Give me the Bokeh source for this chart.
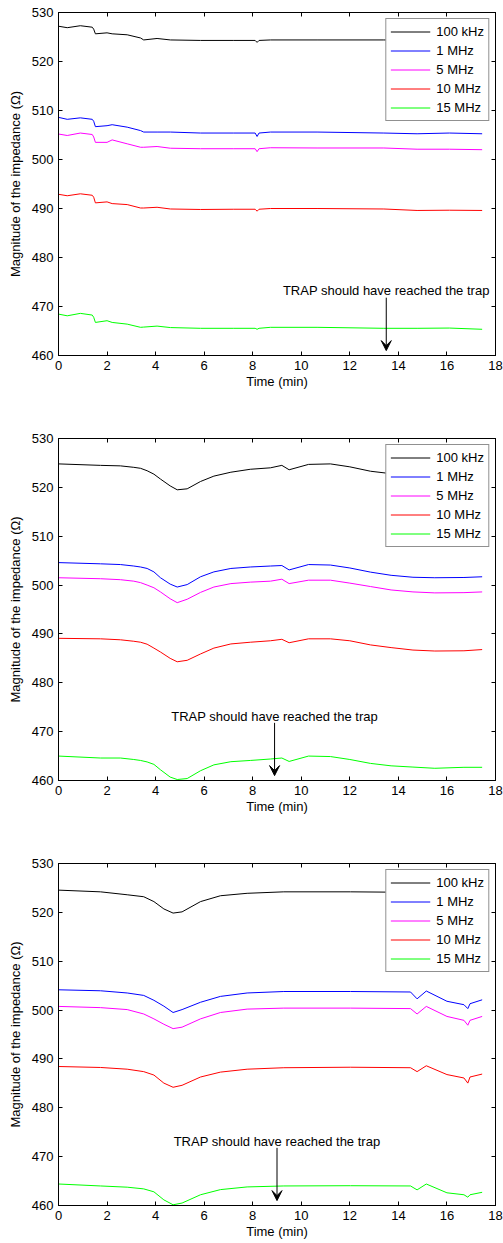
from bokeh.plotting import figure
from bokeh.models import (Range1d, LinearAxis, FixedTicker, Arrow, VeeHead, Label,
                          Legend, LegendItem)
from bokeh.layouts import column
from bokeh.embed import file_html
from bokeh.resources import INLINE

# ---------------- data ----------------
series_names = ["100 kHz", "1 MHz", "5 MHz", "10 MHz", "15 MHz"]
series_colors = ["#000000", "#0000ff", "#ff00ff", "#ff0000", "#00ff00"]

x_ticks = [0, 2, 4, 6, 8, 10, 12, 14, 16, 18]
y_ticks = [460, 470, 480, 490, 500, 510, 520, 530]

# Panel 1
t1 = [0.0, 0.36, 0.9, 1.39, 1.45, 1.52, 2.0, 2.21, 2.83, 3.38, 3.51, 4.06, 4.61, 5.85,
      7.22, 8.1, 8.18, 8.26, 8.73, 10.65, 13.4, 14.77, 16.1, 17.45]
p1_100k = [527.2, 526.9, 527.3, 527.0, 526.6, 525.65, 525.85, 525.65, 525.45, 524.8, 524.4, 524.7,
           524.4, 524.3, 524.3, 524.3, 523.9, 524.3, 524.4, 524.4, 524.4, 524.3, 524.3, 524.2]
p1_1M = [508.6, 508.2, 508.5, 508.2, 507.8, 506.7, 506.9, 507.1, 506.6, 505.9, 505.6, 505.6,
         505.6, 505.4, 505.4, 505.4, 504.7, 505.4, 505.6, 505.6, 505.4, 505.25, 505.4, 505.25]
p1_5M = [505.2, 504.9, 505.4, 505.1, 504.6, 503.5, 503.5, 504.0, 503.2, 502.5, 502.5, 502.65,
         502.3, 502.2, 502.2, 502.2, 501.6, 502.2, 502.4, 502.35, 502.35, 502.1, 502.1, 502.0]
p1_10M = [492.9, 492.6, 493.0, 492.7, 492.3, 491.15, 491.35, 491.0, 490.8, 490.1, 490.1, 490.25,
          489.9, 489.8, 489.85, 489.85, 489.45, 489.85, 490.0, 490.0, 489.9, 489.6, 489.65, 489.6]
p1_15M = [468.45, 468.1, 468.6, 468.25, 467.8, 466.75, 467.1, 466.75, 466.4, 465.75, 465.8, 466.0,
          465.7, 465.55, 465.55, 465.55, 465.35, 465.55, 465.75, 465.75, 465.55, 465.55, 465.6, 465.35]

# Panel 2
t2 = [0.0, 1.73, 2.55, 3.1, 3.38, 3.65, 3.93, 4.2, 4.6, 4.89, 5.3, 5.85, 6.4, 7.1, 7.9, 8.73,
      9.2, 9.5, 10.3, 11.2, 12.0, 12.85, 13.7, 14.6, 15.5, 16.7, 17.45]
p2_100k = [524.8, 524.5, 524.4, 524.1, 523.9, 523.4, 522.7, 521.7, 520.3, 519.5, 519.7, 521.2,
           522.3, 523.1, 523.7, 524.0, 524.5, 523.6, 524.7, 524.8, 524.2, 523.3, 522.8, 522.4,
           522.2, 522.3, 522.4]
p2_1M = [504.6, 504.35, 504.2, 503.9, 503.7, 503.4, 502.7, 501.5, 500.2, 499.6, 500.1, 501.7,
         502.7, 503.4, 503.7, 503.9, 504.0, 503.1, 504.2, 504.1, 503.5, 502.65, 502.0, 501.6,
         501.5, 501.55, 501.7]
p2_5M = [501.5, 501.3, 501.1, 500.8, 500.5, 500.0, 499.45, 498.6, 497.2, 496.4, 497.1, 498.5,
         499.6, 500.3, 500.6, 500.8, 501.2, 500.3, 501.0, 501.0, 500.4, 499.7, 499.0, 498.6,
         498.4, 498.45, 498.6]
p2_10M = [489.1, 489.0, 488.8, 488.5, 488.3, 487.9, 487.1, 486.3, 485.0, 484.3, 484.6, 485.9,
          487.1, 487.95, 488.3, 488.6, 488.9, 488.2, 489.0, 489.0, 488.6, 487.75, 487.2, 486.7,
          486.5, 486.55, 486.8]
p2_15M = [465.0, 464.6, 464.6, 464.3, 464.1, 463.8, 463.3, 462.2, 460.7, 460.2, 460.4, 462.0,
          463.2, 463.85, 464.1, 464.4, 464.6, 463.9, 465.0, 464.9, 464.3, 463.5, 463.0, 462.75,
          462.5, 462.7, 462.7]

# Panel 3
t3 = [0.0, 1.73, 2.83, 3.51, 3.93, 4.34, 4.72, 5.09, 5.85, 6.67, 7.77, 9.28, 12.03, 14.5,
      14.77, 15.15, 16.0, 16.7, 16.86, 16.95, 17.45]
p3_100k = [524.55, 524.2, 523.6, 523.2, 522.2, 520.7, 519.85, 520.1, 522.2, 523.4, 523.9, 524.2,
           524.2, 524.1, 523.1, 524.1, 523.2, 522.7, 522.0, 522.6, 522.9]
p3_1M = [504.15, 503.95, 503.5, 503.0, 502.0, 500.8, 499.5, 500.1, 501.6, 502.8, 503.5, 503.8,
         503.8, 503.7, 502.3, 503.9, 501.8, 501.1, 500.3, 501.3, 502.1]
p3_5M = [500.75, 500.5, 500.1, 499.2, 498.2, 497.1, 496.2, 496.5, 498.2, 499.5, 500.2, 500.4,
         500.4, 500.3, 499.2, 500.75, 498.7, 497.9, 496.9, 497.9, 498.7]
p3_10M = [488.45, 488.25, 487.9, 487.4, 486.7, 485.05, 484.2, 484.6, 486.3, 487.3, 487.9, 488.2,
          488.3, 488.2, 487.4, 488.6, 486.8, 486.1, 485.05, 486.3, 486.9]
p3_15M = [464.4, 464.0, 463.75, 463.4, 462.8, 461.15, 460.15, 460.5, 462.2, 463.25, 463.8, 464.0,
          464.05, 464.0, 463.2, 464.4, 462.6, 462.2, 461.7, 462.2, 462.7]

trap_times = [13.5, 8.9, 9.0]
trap_text = "TRAP should have reached the trap"

FONT = "Liberation Sans"


def style_axis(ax, ticks, show_labels=True):
    ax.ticker = FixedTicker(ticks=ticks)
    ax.major_tick_in = 4
    ax.major_tick_out = 0
    ax.minor_tick_in = 0
    ax.minor_tick_out = 0
    ax.axis_line_color = "#000000"
    ax.major_tick_line_color = "#000000"
    ax.major_label_text_font = FONT
    if show_labels:
        ax.major_label_text_color = "#000000"
        ax.major_label_text_font_size = "13px"
        ax.major_label_standoff = 5
    else:
        # tick marks only (box-style frame), no labels drawn
        ax.major_label_text_color = None
        ax.major_label_text_font_size = "1px"
        ax.major_label_standoff = 0


def make_panel(t, ys, trap_x, height, top, bottom):
    p = figure(width=503, height=height, output_backend="svg", toolbar_location=None,
               x_range=Range1d(0, 18), y_range=Range1d(460, 530),
               min_border_left=58, min_border_right=8,
               min_border_top=top, min_border_bottom=bottom)
    p.xgrid.visible = False
    p.ygrid.visible = False
    p.outline_line_color = "#000000"
    p.background_fill_color = "white"
    p.border_fill_color = "white"

    items = []
    for name, color, y in zip(series_names, series_colors, ys):
        r = p.line(t, y, line_color=color, line_width=1)
        items.append(LegendItem(label=name, renderers=[r]))

    style_axis(p.xaxis[0], x_ticks)
    style_axis(p.yaxis[0], y_ticks)
    p.xaxis[0].axis_label = "Time (min)"
    p.yaxis[0].axis_label = "Magnitude of the impedance (\u03a9)"
    for ax in (p.xaxis[0], p.yaxis[0]):
        ax.axis_label_text_font = FONT
        ax.axis_label_text_font_size = "13px"
        ax.axis_label_text_font_style = "normal"
        ax.axis_label_text_color = "#000000"
    p.xaxis[0].axis_label_standoff = 1
    p.yaxis[0].axis_label_standoff = 6

    top_ax = LinearAxis()
    right_ax = LinearAxis()
    style_axis(top_ax, x_ticks, show_labels=False)
    style_axis(right_ax, y_ticks, show_labels=False)
    p.add_layout(top_ax, "above")
    p.add_layout(right_ax, "right")

    lg = Legend(items=items, location="top_right", margin=6, padding=4, spacing=2,
                glyph_width=40, glyph_height=17, label_height=16, label_standoff=6,
                label_text_font=FONT, label_text_font_size="13px",
                label_text_color="#000000", border_line_color="#222222",
                border_line_width=1, background_fill_color="white",
                background_fill_alpha=1.0)
    p.add_layout(lg, "center")

    p.add_layout(Label(x=trap_x, y=473.2, text=trap_text, text_align="center",
                       text_baseline="middle", text_font=FONT, text_font_size="13px",
                       text_color="#000000"))
    p.add_layout(Arrow(end=VeeHead(size=10, fill_color="black", line_color="black"),
                       x_start=trap_x, y_start=471.8, x_end=trap_x, y_end=461.0,
                       line_color="black", line_width=1))
    return p


p1 = make_panel(t1, [p1_100k, p1_1M, p1_5M, p1_10M, p1_15M], trap_times[0], 425, 12, 70)
p2 = make_panel(t2, [p2_100k, p2_1M, p2_5M, p2_10M, p2_15M], trap_times[1], 425, 13, 70)
p3 = make_panel(t3, [p3_100k, p3_1M, p3_5M, p3_10M, p3_15M], trap_times[2], 393, 13, 38)

layout = column(p1, p2, p3)
open("out.html", "w").write(file_html(layout, INLINE))
